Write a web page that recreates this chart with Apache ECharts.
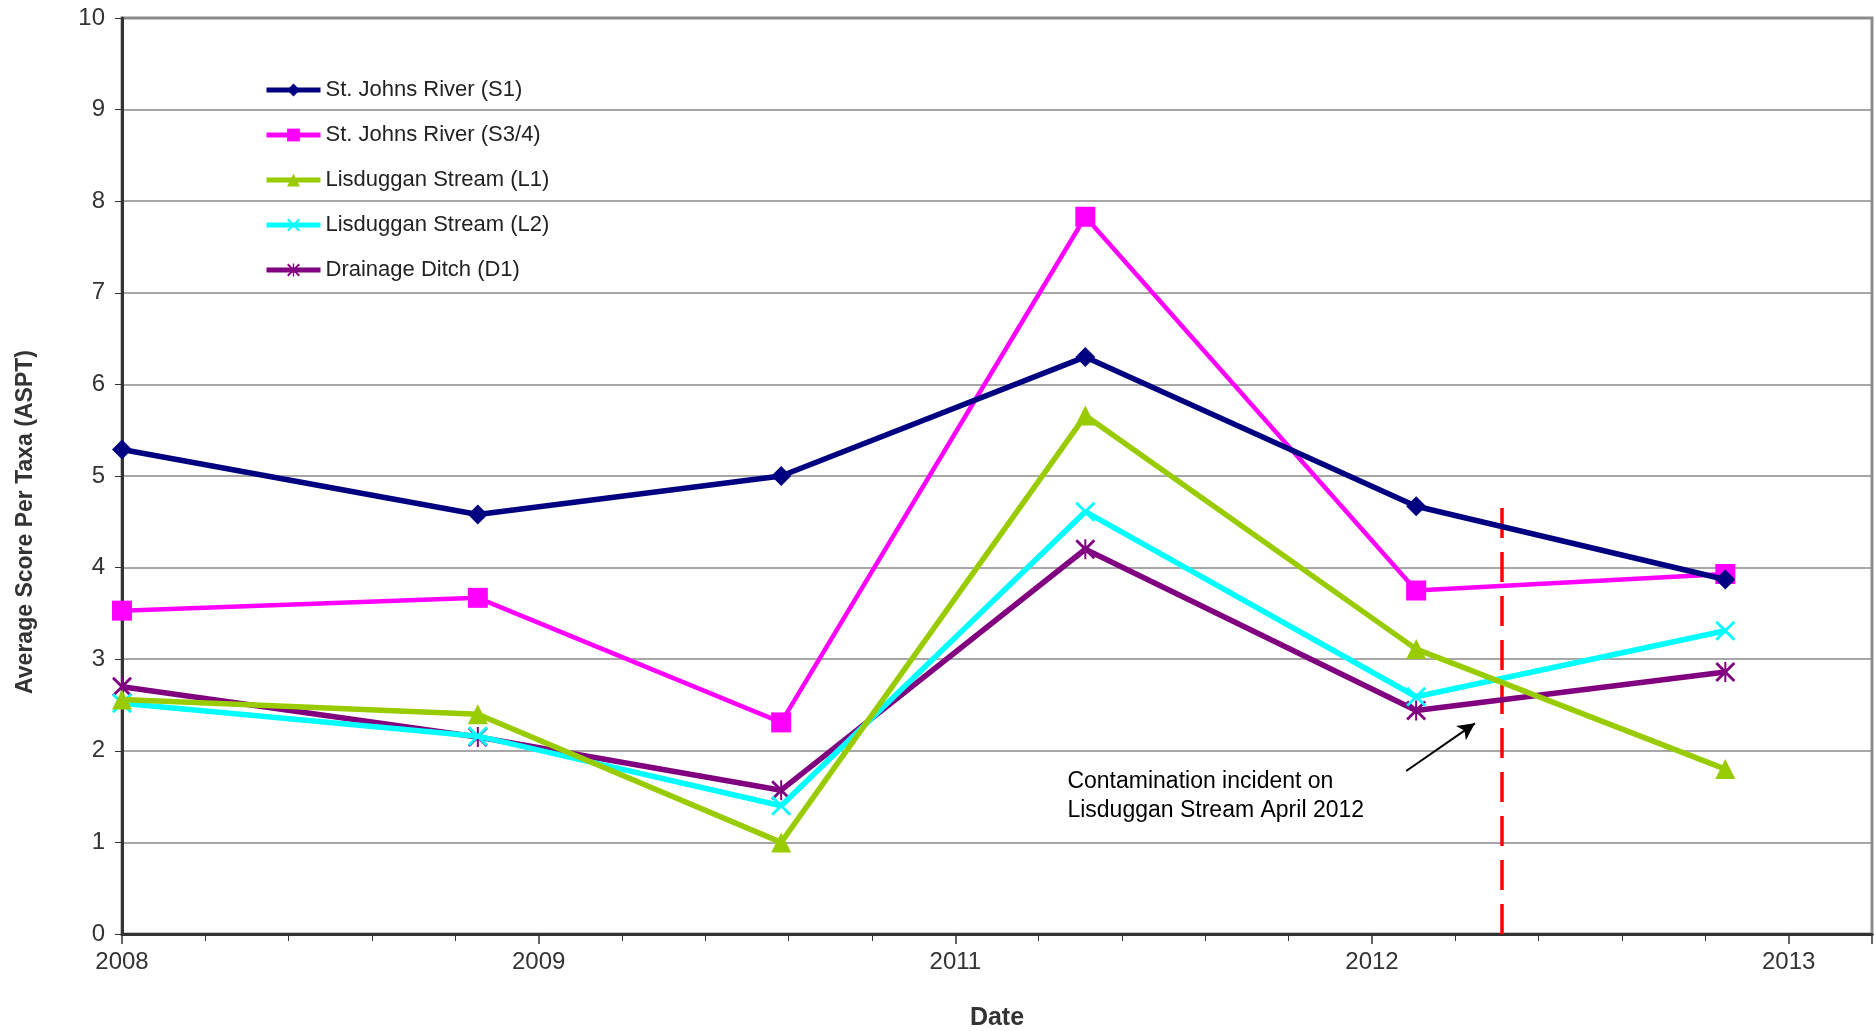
<!DOCTYPE html>
<html>
<head>
<meta charset="utf-8">
<script src="https://cdn.jsdelivr.net/npm/echarts@6/dist/echarts.min.js"></script>
<style>
    * { margin: 0; padding: 0; }
    html, body { width: 100%; height: 100%; background: #fff; }
    #chart { width: 1874px; height: 1031px; }
</style>
</head>
<body>
<div id="chart"></div>
<script>
    // sampling dates, as position on the date axis (one unit per major tick)
    var sampleX = [0, 0.854, 1.582, 2.312, 3.106, 3.848];
    var xTickLabels = ['2008', '2009', '2011', '2012', '2013'];

    // ASPT values per site
    var s1 = [5.29, 4.58, 5.0, 6.30, 4.67, 3.87];
    var s34 = [3.53, 3.67, 2.31, 7.83, 3.75, 3.93];
    var l1 = [2.56, 2.40, 1.0, 5.66, 3.11, 1.80];
    var l2 = [2.52, 2.16, 1.40, 4.61, 2.59, 3.31];
    var d1 = [2.70, 2.15, 1.57, 4.20, 2.44, 2.86];

    // contamination incident marker
    var incidentX = 3.312;
    var incidentY = [0, 4.65];
    var arrowFrom = [3.082, 1.78];
    var arrowTo = [3.247, 2.30];
    var noteText = ['Contamination incident on', 'Lisduggan Stream April 2012'];

    var names = ['St. Johns River (S1)', 'St. Johns River (S3/4)', 'Lisduggan Stream (L1)',
                 'Lisduggan Stream (L2)', 'Drainage Ditch (D1)'];
    var colors = ['#000080', '#ff00ff', '#99cc00', '#00ffff', '#800080'];
    var values = [s1, s34, l1, l2, d1];

    var crossPath = 'path://M0,1L1,0L5,4L9,0L10,1L6,5L10,9L9,10L5,6L1,10L0,9L4,5Z';
    var starPath = crossPath + 'M4.5,0L5.5,0L5.5,10L4.5,10Z';
    var symbols = ['diamond', 'rect', 'triangle', crossPath, starPath];
    var symbolSizes = [20, 20, 20, 20, 20];
    var lineWidths = [5.5, 4.5, 5.5, 5.5, 5.5];

    function pairs(ys) {
        return sampleX.map(function (x, i) { return [x, ys[i]]; });
    }

    var series = values.map(function (v, i) {
        return {
            name: names[i],
            type: 'line',
            data: pairs(v),
            symbol: symbols[i],
            symbolSize: symbolSizes[i],
            showAllSymbol: true,
            z: 10 - i,
            lineStyle: { color: colors[i], width: lineWidths[i] },
            itemStyle: { color: colors[i], borderWidth: 0 },
            emphasis: { disabled: true }
        };
    });

    // red dashed incident line + arrow
    series.push({
        name: 'incident',
        type: 'line',
        data: [[incidentX, incidentY[0]], [incidentX, incidentY[1]]],
        symbol: 'none',
        z: 1,
        lineStyle: { color: '#ff0000', width: 3.5, type: [30, 14] },
        markLine: {
            silent: true,
            symbol: ['none', 'arrow'],
            symbolSize: [13, 17],
            label: { show: false },
            lineStyle: { color: '#000', width: 2, type: 'solid' },
            data: [[{ coord: arrowFrom }, { coord: arrowTo }]]
        }
    });

    var myChart = echarts.init(document.getElementById('chart'));
    var option = {
        backgroundColor: '#fff',
        animation: false,
        grid: {
            left: 122, right: 2, top: 18, bottom: 97,
            outerBoundsMode: 'none',
            containLabel: false,
            show: true, borderColor: '#8c8c8c', borderWidth: 3
        },
        legend: {
            data: names,
            orient: 'vertical',
            left: 259,
            top: 74,
            itemWidth: 54,
            itemHeight: 16,
            itemGap: 23,
            lineStyle: { width: 5 },
            textStyle: { fontFamily: 'Liberation Sans', fontSize: 22, color: '#222' }
        },
        xAxis: {
            type: 'value',
            min: 0,
            max: 4.2,
            interval: 1,
            name: 'Date',
            nameLocation: 'middle',
            nameGap: 72,
            nameTextStyle: { fontFamily: 'Liberation Sans', fontSize: 25, fontWeight: 'bold', color: '#333' },
            splitLine: { show: false },
            axisLine: { lineStyle: { color: '#333', width: 3 } },
            axisTick: { show: true, length: 10, lineStyle: { color: '#333', width: 1.5 } },
            minorTick: { show: true, splitNumber: 5, length: 7, lineStyle: { color: '#333', width: 1 } },
            axisLabel: {
                fontFamily: 'Liberation Sans', fontSize: 24, color: '#333', margin: 16,
                showMaxLabel: false,
                formatter: function (v) {
                    var k = Math.round(v);
                    return Math.abs(v - k) < 1e-6 && xTickLabels[k] ? xTickLabels[k] : '';
                }
            }
        },
        yAxis: {
            type: 'value',
            min: 0,
            max: 10,
            interval: 1,
            axisLine: { show: true, lineStyle: { color: '#333', width: 3 } },
            axisTick: { show: true, length: 7, lineStyle: { color: '#333' } },
            axisLabel: { fontFamily: 'Liberation Sans', fontSize: 24, color: '#333', margin: 17 },
            splitLine: { lineStyle: { color: '#8a8a8a', width: 1.5 } }
        },
        series: series
    };
    myChart.setOption(option);

    // annotation text, placed from data coordinates; y axis title placed by hand
    var notePos = myChart.convertToPixel({ gridIndex: 0 }, [2.269, 1.82]);
    myChart.setOption({
        graphic: [{
            type: 'text',
            left: notePos[0],
            top: notePos[1],
            style: {
                text: noteText.join('\n'),
                font: '23px "Liberation Sans"',
                lineHeight: 29,
                fill: '#000'
            }
        }, {
            type: 'text',
            x: 26,
            y: 522,
            rotation: Math.PI / 2,
            style: {
                text: 'Average Score Per Taxa (ASPT)',
                font: 'bold 23px "Liberation Sans"',
                fill: '#333',
                align: 'center',
                verticalAlign: 'middle'
            }
        }]
    });
</script>
</body>
</html>
